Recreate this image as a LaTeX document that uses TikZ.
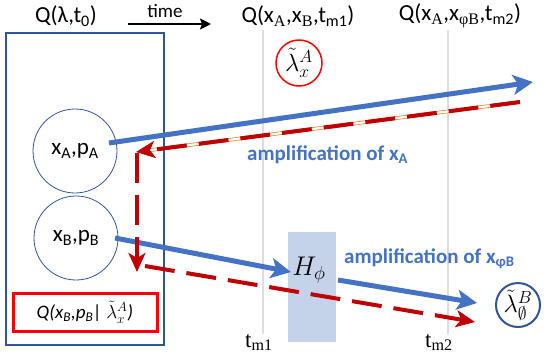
\RequirePackage{fix-cm}
\documentclass[tikz,border=0pt]{standalone}
\usepackage{fontspec}
\setmainfont{Carlito}
\newfontfamily\tnr{Liberation Serif}
\usetikzlibrary{calc,arrows.meta}
\definecolor{ablue}{HTML}{4472C4}
\definecolor{dblue}{HTML}{2F5597}
\definecolor{dred}{HTML}{C00000}
\definecolor{oorange}{HTML}{ED7D31}
\definecolor{hfill}{HTML}{C5D3EA}
\definecolor{tgray}{HTML}{DDDDDD}
\newcommand{\ssub}[1]{\textsubscript{\tnr #1}}

\begin{document}
\begin{tikzpicture}[x=1pt,y=-1pt,
  title/.style={font=\fontsize{23}{26}\selectfont,inner sep=0pt},
  state/.style={circle,draw=dblue,line width=0.8pt,minimum size=84pt,inner sep=0pt,font=\fontsize{23}{26}\selectfont},
  hidden/.style={circle,minimum size=46pt,inner sep=0pt,font=\fontsize{25}{26}\selectfont},
  amp/.style={ablue,line width=5pt,-{Stealth[length=20pt,width=20pt,inset=5pt]}},
  back/.style={dred,line width=4pt,dash pattern=on 30pt off 12pt,-{Stealth[length=19pt,width=17pt,inset=5pt]}},
  amplbl/.style={ablue,font=\bfseries\fontsize{21}{24}\selectfont,inner sep=0pt},
  tlbl/.style={font=\tnr\fontsize{23}{25}\selectfont,inner sep=0pt}]
  \useasboundingbox (0,0) rectangle (547,360);
  % time marks
  \node[tlbl,anchor=base west] (tm1) at (245,347) {t\textsubscript{m1}};
  \node[tlbl,anchor=base west] (tm2) at (425,347) {t\textsubscript{m2}};
  \coordinate (m1top) at (263,30);
  \coordinate (m2top) at (448,30);
  \draw[tgray,line width=1.5pt] (m1top) -- (m1top |- tm1.north);
  \draw[tgray,line width=1.5pt] (m2top) -- (m2top |- tm2.north);
  % headings
  \node[title] (q0) at (66,16) {Q(λ,t\textsubscript{0})};
  \node[font=\fontsize{19}{22}\selectfont,inner sep=0pt] (time) at (165,11) {time};
  \coordinate (tl) at (128,24);
  \coordinate (tr) at (211,24);
  \draw[line width=2pt,-{Stealth[length=11pt,width=11pt,inset=2pt]}] (tl) -- (tr);
  \node[title] (qm1) at (298,16) {Q(x\ssub{A},x\ssub{B},t\textsubscript{m1})};
  \node[title] (qm2) at (460,16) {Q(x\ssub{A},x\ssub{φB},t\textsubscript{m2})};
  % initial ensemble
  \node[draw=dblue,line width=2pt,minimum width=158pt,minimum height=312pt] (frame) at (85,189) {};
  \node[state] (ca) at (75,151) {x\textsubscript{A},p\textsubscript{A}};
  \node[state] (cb) at (76,238) {x\textsubscript{B},p\textsubscript{B}};
  \node[draw=red,line width=3pt,minimum width=144pt,minimum height=38pt,inner sep=0pt,
    font=\itshape\fontsize{19}{22}\selectfont] (cond) at (85,312) {Q(x\textsubscript{B},p\textsubscript{B}| $\tilde\lambda^A_x$)};
  % hidden variables
  \node[hidden,draw=red,line width=1.5pt] (lama) at (299,63) {$\tilde\lambda^A_x$};
  \node[hidden,draw=dblue,line width=2pt,minimum size=44pt] (lamb) at (518,305) {$\tilde\lambda^B_\emptyset$};
  % interaction
  \node[fill=hfill,minimum width=48pt,minimum height=110pt] (hphi) at (312,287) {};
  \node[font=\fontsize{27}{28}\selectfont,inner sep=0pt] (hlbl) at (309,270) {$H_\phi$};
  % amplification arrows
  \coordinate (aout) at (109,143);
  \coordinate (aend) at (533,82);
  \draw[amp] (aout) -- (aend);
  \coordinate (bout) at (115,238);
  \coordinate (bin) at (291,272);
  \coordinate (hout) at (338,280);
  \coordinate (bend) at (477,303);
  \draw[amp] (bout) -- (bin);
  \draw[amp] (hout) -- (bend);
  % retrocausal path
  \coordinate (rs) at (520,102);
  \coordinate (rc) at (136,152);
  \coordinate (rd) at (137,272);
  \coordinate (rb) at (145,266);
  \coordinate (re) at (475,322);
  \draw[oorange,line width=0.7pt,double=white,double distance=2.2pt,shorten >=12pt] (rs) -- (rc);
  \draw[back] (rs) -- (rc);
  \draw[back] ($(rc)+(1,1)$) -- (rd);
  \draw[back] (rb) -- (re);
  % labels
  \node[amplbl,anchor=base west] (ampa) at (247,160) {amplification of x\textsubscript{A}};
  \node[amplbl,anchor=base west] (ampb) at (344,263) {amplification of x\textsubscript{φB}};
\end{tikzpicture}
\end{document}
